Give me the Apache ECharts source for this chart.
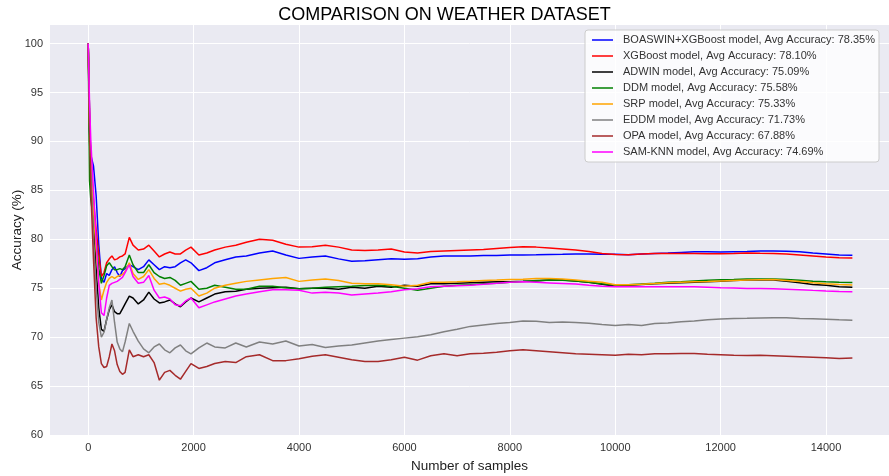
<!DOCTYPE html>
<html>
<head>
<meta charset="utf-8">
<script src="https://cdn.jsdelivr.net/npm/echarts@6/dist/echarts.min.js"></script>
<style>
  html, body { margin: 0; padding: 0; background: #ffffff; }
  #chart { width: 889px; height: 476px; }
</style>
</head>
<body>
<div id="chart"></div>
<script>
// Sample positions (number of samples seen) shared by every model curve
const samples = [
  0, 25, 50, 100, 150, 200, 250, 300, 350, 400, 450, 500, 550, 600, 650, 700,
  780, 850, 950, 1050, 1150, 1250, 1350, 1450, 1550, 1650, 1750, 1850, 1950,
  2100, 2250, 2400, 2600, 2800, 3000,
  3250, 3500, 3750, 4000, 4250, 4500, 4750, 5000, 5250, 5500,
  5750, 6000, 6250, 6500, 6750, 7000, 7250, 7500, 7750, 8000,
  8250, 8500, 8750, 9000, 9250, 9500, 9750, 10000, 10250, 10500,
  10750, 11000, 11250, 11500, 11750, 12000, 12250, 12500, 12750, 13000,
  13250, 13500, 13750, 14000, 14250, 14500
];

// Running accuracy (%) per model
const boaswinXgb = [
  100, 91, 88.6, 87.5, 84.5, 79.5, 76.0, 75.6, 76.5, 76.3, 76.9, 77.2, 76.6, 76.2, 76.8, 77.0,
  77.4, 77.2, 76.9, 77.2, 77.9, 77.4, 76.9, 77.2, 77.1, 77.2, 77.6, 77.9, 77.6,
  76.8, 77.1, 77.6, 77.9, 78.2, 78.3,
  78.6, 78.8, 78.4, 78.05, 78.2, 78.3, 78.0, 77.75, 77.8, 77.9,
  78.0, 77.95, 78.0, 78.2, 78.3, 78.3, 78.3, 78.35, 78.35, 78.4,
  78.4, 78.42, 78.45, 78.47, 78.5, 78.5, 78.48, 78.46, 78.43, 78.5,
  78.56, 78.6, 78.66, 78.72, 78.72, 78.7, 78.73, 78.75, 78.8, 78.8,
  78.78, 78.73, 78.6, 78.5, 78.4, 78.36
];
const xgboost = [
  100, 90, 87, 84, 81, 78.5, 76.2, 76.6, 77.6, 78.0, 78.3, 77.9, 78.0, 78.2, 78.3, 78.5,
  80.2, 79.4, 78.9, 79.0, 79.4, 78.8, 78.2, 78.5, 78.7, 78.5, 78.5, 78.9, 79.2,
  78.4, 78.6, 78.9, 79.2, 79.4, 79.7,
  80.0, 79.9, 79.5, 79.2, 79.25, 79.4, 79.2, 78.9, 78.85, 78.9,
  79.0, 78.7, 78.6, 78.75, 78.8, 78.85, 78.9, 78.95, 79.05, 79.15,
  79.25, 79.2, 79.1, 79.0, 78.9, 78.75, 78.55, 78.45, 78.42, 78.5,
  78.55, 78.56, 78.56, 78.56, 78.52, 78.53, 78.56, 78.6, 78.57, 78.56,
  78.5, 78.4, 78.3, 78.2, 78.12, 78.1
];
const adwin = [
  100, 93, 88, 82, 77, 73, 70.8, 70.6, 71.8, 72.8, 73.3, 72.6, 72.4, 72.4, 72.9, 73.4,
  74.2, 74.0, 73.4, 73.8, 74.6, 73.9, 73.5, 73.6, 73.8, 73.4, 73.1, 73.6, 74.0,
  73.6, 74.0, 74.4, 74.65, 74.7, 74.9,
  75.0, 75.05, 75.1, 74.95, 75.0, 75.0, 74.9, 75.1, 75.0, 75.2,
  75.1, 75.3, 75.2, 75.45, 75.45, 75.5, 75.55, 75.6, 75.65, 75.67,
  75.7, 75.75, 75.84, 75.84, 75.75, 75.6, 75.4, 75.2, 75.3, 75.38,
  75.45, 75.5, 75.57, 75.6, 75.66, 75.7, 75.78, 75.84, 75.85, 75.84,
  75.7, 75.55, 75.38, 75.3, 75.15, 75.09
];
const ddm = [
  100, 86, 84, 82, 80, 77, 75.5, 76.3, 77.3, 77.6, 77.2, 76.9, 76.9, 77.0, 76.9, 77.2,
  78.4, 77.4, 76.6, 76.6, 77.4, 76.6, 76.2, 76.0, 76.1, 75.8, 75.3, 75.5, 75.7,
  74.9, 75.0, 75.3, 75.1, 74.9, 74.9,
  75.2, 75.2, 75.05, 74.95, 75.0, 75.1, 75.15, 75.2, 75.28, 75.3,
  75.2, 75.0, 74.8, 75.0, 75.2, 75.3, 75.35, 75.45, 75.5, 75.6,
  75.68, 75.78, 75.84, 75.82, 75.75, 75.62, 75.45, 75.33, 75.35, 75.42,
  75.5, 75.6, 75.66, 75.75, 75.82, 75.86, 75.88, 75.93, 75.93, 75.95,
  75.9, 75.82, 75.72, 75.65, 75.6, 75.58
];
const srp = [
  100, 92, 88, 83, 79, 75.5, 73.8, 74.8, 75.6, 76.0, 76.2, 76.0, 76.2, 76.3, 76.4, 76.7,
  77.6, 76.5, 75.9, 76.2, 76.9, 76.0, 75.4, 75.5, 75.3, 75.0, 74.7, 74.9, 75.0,
  74.2, 74.5, 75.0, 75.3, 75.5, 75.7,
  75.85, 76.0, 76.1, 75.7, 75.85, 75.95, 75.8, 75.5, 75.45, 75.45,
  75.35, 75.2, 75.3, 75.6, 75.6, 75.65, 75.72, 75.8, 75.84, 75.9,
  75.92, 76.0, 76.0, 75.95, 75.84, 75.72, 75.6, 75.35, 75.35, 75.4,
  75.47, 75.55, 75.6, 75.65, 75.68, 75.75, 75.8, 75.84, 75.87, 75.9,
  75.8, 75.68, 75.55, 75.45, 75.38, 75.33
];
const eddm = [
  100, 93, 87, 80, 75, 71.5, 70.0, 70.5, 71.8, 73.0, 73.8, 71.5, 69.5, 68.8, 68.5, 69.5,
  71.4, 70.6, 69.6, 68.8, 68.4, 69.0, 69.3, 68.7, 68.4, 68.9, 69.2, 68.6, 68.3,
  68.9, 69.4, 69.0, 68.9, 69.4, 69.0,
  69.5, 69.3, 69.6, 69.1, 69.25, 68.95, 69.1, 69.2, 69.4, 69.6,
  69.75, 69.9, 70.05, 70.25, 70.55, 70.8, 71.1, 71.25, 71.4, 71.5,
  71.65, 71.62, 71.5, 71.55, 71.5, 71.42, 71.3, 71.2, 71.3, 71.2,
  71.4, 71.45, 71.57, 71.66, 71.78, 71.85, 71.9, 71.92, 71.96, 71.98,
  71.97, 71.9, 71.87, 71.82, 71.77, 71.73
];
const opa = [
  100, 92, 85, 78, 72, 69, 67.3, 66.9, 67.0, 68.0, 69.3, 68.6, 67.2, 66.5, 66.2, 66.4,
  68.7, 68.0, 68.2, 68.0, 68.2, 67.4, 65.6, 66.4, 66.6, 66.1, 65.7, 66.5, 67.3,
  66.8, 67.0, 67.3, 67.5, 67.4, 68.0,
  68.2, 67.6, 67.6, 67.8, 68.05, 68.2, 67.95, 67.7, 67.5, 67.5,
  67.7, 67.95, 67.65, 68.1, 68.3, 68.1, 68.3, 68.35, 68.45, 68.6,
  68.7, 68.6, 68.5, 68.4, 68.3, 68.25, 68.2, 68.15, 68.25, 68.2,
  68.3, 68.3, 68.34, 68.32, 68.25, 68.2, 68.15, 68.13, 68.15, 68.1,
  68.05, 68.0, 67.95, 67.9, 67.83, 67.88
];
const samKnn = [
  100, 94, 90, 85, 80, 75.5, 72.5, 72.2, 74.0, 75.3, 75.5, 75.6, 75.7, 75.9, 76.1, 76.6,
  77.4, 76.2, 75.5, 75.6, 76.3, 74.8, 74.0, 74.1, 73.9, 73.3, 73.2, 73.7, 74.0,
  73.0, 73.3, 73.6, 73.9, 74.2, 74.4,
  74.65, 74.85, 74.85, 74.8, 74.5, 74.6, 74.5, 74.3, 74.4, 74.5,
  74.65, 74.85, 74.95, 75.15, 75.2, 75.25, 75.3, 75.4, 75.5, 75.62,
  75.66, 75.6, 75.54, 75.48, 75.42, 75.3, 75.2, 75.15, 75.15, 75.15,
  75.15, 75.15, 75.15, 75.14, 75.1, 75.05, 75.02, 74.98, 74.98, 74.95,
  74.9, 74.85, 74.78, 74.72, 74.67, 74.64
];

const modelNames = [
  'BOASWIN+XGBoost model, Avg Accuracy: 78.35%',
  'XGBoost model, Avg Accuracy: 78.10%',
  'ADWIN model, Avg Accuracy: 75.09%',
  'DDM model, Avg Accuracy: 75.58%',
  'SRP model, Avg Accuracy: 75.33%',
  'EDDM model, Avg Accuracy: 71.73%',
  'OPA model, Avg Accuracy: 67.88%',
  'SAM-KNN model, Avg Accuracy: 74.69%'
];
const modelValues = [boaswinXgb, xgboost, adwin, ddm, srp, eddm, opa, samKnn];
const modelColors = ['#0000ff', '#ff0000', '#000000', '#008000', '#ffa500', '#808080', '#a52a2a', '#ff00ff'];

const xTicks = [0, 2000, 4000, 6000, 8000, 10000, 12000, 14000];
const yTicks = [60, 65, 70, 75, 80, 85, 90, 95, 100];

const FONT = '"Liberation Sans", Arial, sans-serif';

const chart = echarts.init(document.getElementById('chart'), null, { renderer: 'canvas' });

chart.setOption({
  animation: false,
  backgroundColor: '#ffffff',
  title: {
    text: 'COMPARISON ON WEATHER DATASET',
    left: 'center',
    top: 1,
    textStyle: { fontFamily: FONT, fontSize: 18, fontWeight: 'normal', color: '#000000' }
  },
  grid: {
    left: 50, right: 0, top: 25, bottom: 41,
    outerBoundsMode: 'none',
    containLabel: false,
    show: true, backgroundColor: '#EAEAF2', borderWidth: 0
  },
  legend: {
    orient: 'vertical',
    left: 585,
    top: 30,
    padding: [2, 4, 2, 7],
    itemGap: 0,
    itemWidth: 21,
    itemHeight: 1.5,
    icon: 'rect',
    backgroundColor: 'rgba(255,255,255,0.8)',
    borderColor: '#cccccc',
    borderWidth: 1,
    borderRadius: 3,
    textStyle: { fontFamily: FONT, fontSize: 11, color: '#333333', lineHeight: 16, padding: [0, 0, 0, 5] },
    data: modelNames
  },
  xAxis: {
    type: 'value',
    min: -725,
    max: 15195,
    name: 'Number of samples',
    nameLocation: 'middle',
    nameGap: 24,
    nameMoveOverlap: false,
    nameTextStyle: { fontFamily: FONT, fontSize: 13.5, color: '#222222' },
    axisLine: { show: false },
    axisTick: { show: false, customValues: xTicks },
    axisLabel: {
      customValues: xTicks,
      formatter: (v) => String(v),
      fontFamily: FONT, fontSize: 11, color: '#333333', margin: 7
    },
    splitLine: { show: true, lineStyle: { color: '#ffffff', width: 1 } }
  },
  yAxis: {
    type: 'value',
    min: 60,
    max: 101.9,
    name: 'Accuracy (%)',
    nameLocation: 'middle',
    nameGap: 26,
    nameMoveOverlap: false,
    nameTextStyle: { fontFamily: FONT, fontSize: 13.5, color: '#222222' },
    axisLine: { show: false },
    axisTick: { show: false, customValues: yTicks },
    axisLabel: {
      customValues: yTicks,
      formatter: (v) => String(v),
      fontFamily: FONT, fontSize: 11, color: '#333333', margin: 7
    },
    splitLine: { show: true, lineStyle: { color: '#ffffff', width: 1 } }
  },
  series: modelNames.map((name, i) => ({
    name: name,
    type: 'line',
    symbol: 'none',
    showSymbol: false,
    color: modelColors[i],
    lineStyle: { color: modelColors[i], width: 1.5 },
    data: samples.map((s, j) => [s, modelValues[i][j]])
  }))
});
</script>
</body>
</html>
